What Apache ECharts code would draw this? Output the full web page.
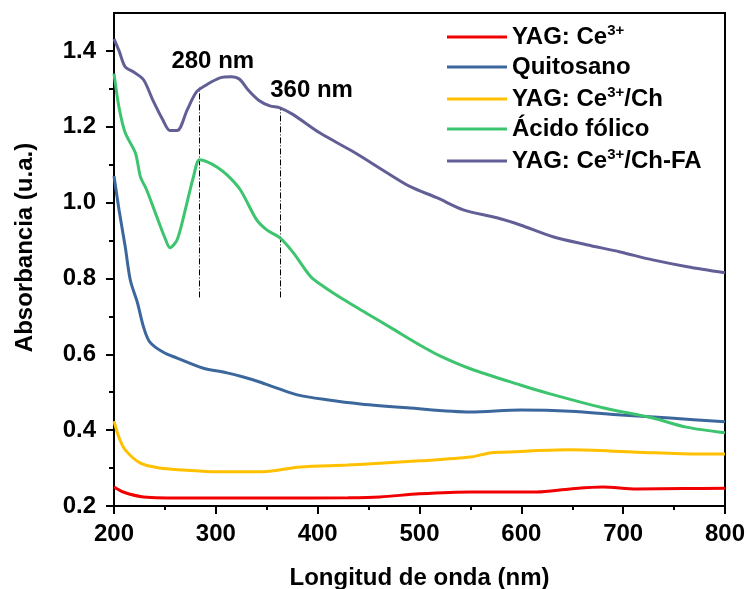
<!DOCTYPE html>
<html>
<head>
<meta charset="utf-8">
<script src="https://cdn.jsdelivr.net/npm/echarts@6/dist/echarts.min.js"></script>
<style>
  html, body { margin: 0; padding: 0; background: #fff; }
  #chart { width: 751px; height: 589px; }
</style>
</head>
<body>
<div id="chart"></div>
<script>
// UV-Vis absorbance spectra, [wavelength (nm), absorbance (u.a.)]
const yagCe = [
  [200, 0.250], [209, 0.237], [229, 0.224], [272, 0.221], [350, 0.221],
  [430, 0.222], [461, 0.224], [500, 0.232], [550, 0.237], [615, 0.237],
  [648, 0.245], [680, 0.250], [713, 0.245], [760, 0.246], [800, 0.247]
];
const quitosano = [
  [200, 1.070], [205, 0.980], [211, 0.884], [216, 0.796], [223, 0.736],
  [229, 0.672], [235, 0.633], [248, 0.606], [262, 0.590], [287, 0.564],
  [311, 0.551], [327, 0.540], [343, 0.527], [360, 0.511], [380, 0.493],
  [409, 0.480], [442, 0.469], [488, 0.459], [550, 0.448], [599, 0.453],
  [648, 0.450], [698, 0.440], [746, 0.432], [800, 0.422]
];
const yagCeCh = [
  [200, 0.424], [205, 0.380], [211, 0.348], [226, 0.313], [245, 0.300],
  [268, 0.295], [301, 0.290], [343, 0.290], [383, 0.303], [429, 0.308],
  [461, 0.313], [500, 0.319], [550, 0.329], [569, 0.340], [582, 0.342],
  [648, 0.348], [713, 0.342], [775, 0.337], [800, 0.337]
];
const acidoFolico = [
  [200, 1.340], [205, 1.250], [211, 1.184], [221, 1.131], [226, 1.068],
  [232, 1.034], [242, 0.963], [250, 0.907], [255, 0.881], [262, 0.902],
  [270, 0.981], [278, 1.068], [284, 1.113], [291, 1.108], [301, 1.094],
  [311, 1.073], [324, 1.034], [340, 0.955], [350, 0.928], [363, 0.907],
  [376, 0.868], [393, 0.805], [405, 0.780], [425, 0.745], [450, 0.705],
  [475, 0.665], [500, 0.625], [520, 0.596], [550, 0.562], [599, 0.519],
  [625, 0.498], [680, 0.459], [729, 0.432], [762, 0.408], [800, 0.393]
];
const yagCeChFa = [
  [200, 1.432], [205, 1.400], [211, 1.358], [219, 1.345], [229, 1.324],
  [238, 1.271], [248, 1.218], [255, 1.190], [262, 1.190], [272, 1.245],
  [281, 1.292], [291, 1.311], [304, 1.329], [315, 1.332], [323, 1.326],
  [332, 1.296], [342, 1.270], [353, 1.255], [363, 1.250], [376, 1.232],
  [402, 1.184], [435, 1.134], [468, 1.079], [491, 1.042], [517, 1.013],
  [543, 0.981], [576, 0.960], [599, 0.941], [631, 0.910], [664, 0.889],
  [697, 0.870], [729, 0.849], [763, 0.831], [800, 0.815]
];

const seriesNames = ['YAG: Ce3+', 'Quitosano', 'YAG: Ce3+/Ch', 'Ácido fólico', 'YAG: Ce3+/Ch-FA'];
const seriesData = [yagCe, quitosano, yagCeCh, acidoFolico, yagCeChFa];
const seriesColors = ['#f00000', '#3b679d', '#ffc000', '#3dc46e', '#625f97'];

// Band positions marked on the spectrum (nm) and where their guide lines stop
const bandNm = [283.5, 363];
const bandTop = [1.303, 1.250];
const bandBottom = 0.75;
const bandLabels = ['280 nm', '360 nm'];

const yMajor = [0.2, 0.4, 0.6, 0.8, 1.0, 1.2, 1.4];
const yMinor = [0.3, 0.5, 0.7, 0.9, 1.1, 1.3];

const FONT = '"Liberation Sans", Arial, sans-serif';
const chart = echarts.init(document.getElementById('chart'), null, { renderer: 'canvas' });

// rich-text names with superscript charge
function legendText(name) {
  return name.split('3+').map((part, i, arr) =>
    (part ? '{n|' + part + '}' : '') + (i < arr.length - 1 ? '{s|3+}' : '')
  ).join('');
}

const series = seriesNames.map((name, i) => ({
  name: name,
  type: 'line',
  data: seriesData[i],
  showSymbol: false,
  smooth: 0.3,
  lineStyle: { color: seriesColors[i], width: 3 },
  itemStyle: { color: seriesColors[i] },
  z: 3 + i
}));

// dash-dot guides and their labels for the two bands
series.push({
  name: 'bands',
  type: 'line',
  data: [],
  silent: true,
  markLine: {
    silent: true,
    symbol: 'none',
    label: { show: false },
    lineStyle: { color: '#000', width: 1, type: [6, 2, 1, 2] },
    data: bandNm.map((nm, i) => [{ coord: [nm, bandBottom] }, { coord: [nm, bandTop[i]] }])
  },
  markPoint: {
    silent: true,
    symbol: 'circle',
    symbolSize: 0,
    label: {
      show: true,
      position: 'inside',
      color: '#000',
      fontFamily: FONT,
      fontWeight: 'bold',
      fontSize: 24,
      formatter: p => p.name
    },
    data: [
      { name: bandLabels[0], coord: [297, 1.372] },
      { name: bandLabels[1], coord: [394, 1.295] }
    ]
  }
});

const option = {
  backgroundColor: '#fff',
  animation: false,
  grid: {
    left: 114, right: 26, top: 13, bottom: 83,
    outerBoundsMode: 'none',
    containLabel: false,
    show: true, borderColor: '#000', borderWidth: 2, backgroundColor: 'transparent'
  },
  legend: {
    data: seriesNames,
    orient: 'vertical',
    left: 442,
    top: 18,
    icon: 'rect',
    itemWidth: 60,
    itemHeight: 3,
    itemGap: 6,
    selectedMode: false,
    formatter: legendText,
    textStyle: {
      color: '#000',
      rich: {
        n: { fontFamily: FONT, fontWeight: 'bold', fontSize: 24, lineHeight: 28, color: '#000' },
        s: { fontFamily: FONT, fontWeight: 'bold', fontSize: 15, lineHeight: 15, verticalAlign: 'top', color: '#000' }
      }
    }
  },
  xAxis: {
    type: 'value',
    min: 200, max: 800, interval: 100,
    name: 'Longitud de onda (nm)',
    nameLocation: 'middle',
    nameGap: 60,
    nameTextStyle: { fontFamily: FONT, fontWeight: 'bold', fontSize: 24, color: '#000' },
    axisLine: { show: true, lineStyle: { color: '#000', width: 2 } },
    axisTick: { show: true, inside: false, length: 8, lineStyle: { color: '#000', width: 2 } },
    minorTick: { show: true, splitNumber: 2, length: 4, lineStyle: { color: '#000', width: 2 } },
    splitLine: { show: false },
    axisLabel: { margin: 16, fontFamily: FONT, fontWeight: 'bold', fontSize: 24, color: '#000' }
  },
  yAxis: [
    {
      type: 'value',
      min: 0.2, max: 1.5,
      name: 'Absorbancia (u.a.)',
      nameLocation: 'middle',
      nameGap: 77,
      nameTextStyle: { fontFamily: FONT, fontWeight: 'bold', fontSize: 24, color: '#000', padding: [0, 0, 0, 24] },
      axisLine: { show: true, lineStyle: { color: '#000', width: 2 } },
      axisTick: { show: true, inside: false, length: 8, customValues: yMajor, lineStyle: { color: '#000', width: 2 } },
      splitLine: { show: false },
      axisLabel: {
        margin: 18, customValues: yMajor,
        fontFamily: FONT, fontWeight: 'bold', fontSize: 24, color: '#000',
        formatter: v => v.toFixed(1)
      }
    },
    {
      type: 'value',
      min: 0.2, max: 1.5,
      position: 'left',
      axisLine: { show: false },
      axisTick: { show: true, inside: false, length: 5, customValues: yMinor, lineStyle: { color: '#000', width: 2 } },
      axisLabel: { show: false },
      splitLine: { show: false }
    }
  ],
  series: series
};

chart.setOption(option);
</script>
</body>
</html>
